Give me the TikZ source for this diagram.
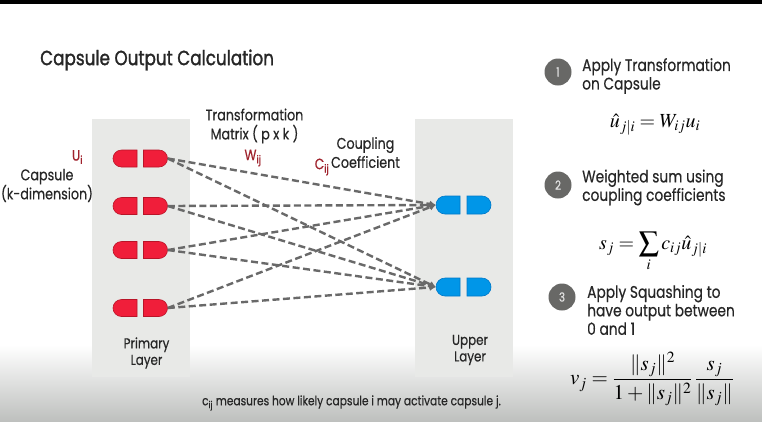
\documentclass[tikz,border=0pt]{standalone}
\usepackage{mathptmx}
\usepackage{fontspec}
\setmainfont[FakeStretch=0.82,FakeBold=0.4]{Poppins}
\newfontfamily\titlefont[FakeStretch=0.82,FakeBold=1.4]{Poppins}
\usetikzlibrary{shapes.misc,arrows.meta}
\definecolor{panel}{RGB}{232,233,231}
\definecolor{capred}{RGB}{240,30,58}
\definecolor{capredline}{RGB}{185,20,40}
\definecolor{capblue}{RGB}{0,150,232}
\definecolor{capblueline}{RGB}{0,120,200}
\definecolor{labred}{RGB}{160,35,45}
\definecolor{txt}{RGB}{38,38,38}
\definecolor{dashc}{RGB}{105,105,105}
\definecolor{badgec}{RGB}{104,104,102}
\definecolor{bottomgray}{RGB}{190,192,190}
\begin{document}
\begin{tikzpicture}[x=1pt,y=-1pt,
  capbase/.style={rounded rectangle, minimum width=24pt, minimum height=17pt, inner sep=0pt, line width=0.6pt},
  redL/.style={capbase, rounded rectangle right arc=none, fill=capred, draw=capredline},
  redR/.style={capbase, rounded rectangle left arc=none, fill=capred, draw=capredline},
  blueL/.style={capbase, minimum height=18pt, rounded rectangle right arc=none, fill=capblue, draw=capblueline},
  blueR/.style={capbase, minimum height=18pt, rounded rectangle left arc=none, fill=capblue, draw=capblueline},
  link/.style={draw=dashc, line width=2.4pt, dash pattern=on 7pt off 3.5pt, -{Latex[length=6pt,width=7pt]}},
  lab/.style={text=txt, inner sep=0pt, align=center, font=\fontsize{15.5}{19}\selectfont},
  rlab/.style={text=txt, inner sep=0pt, align=left, anchor=west, font=\fontsize{16.8}{18.5}\selectfont},
  small/.style={text=txt, inner sep=0pt, align=center, font=\fontsize{14.5}{16.5}\selectfont},
  redlab/.style={text=labred, inner sep=0pt, font=\fontsize{15}{18}\selectfont},
  badge/.style={circle, fill=badgec, minimum size=27pt, inner sep=0pt, text=white!88!black, font=\fontsize{12.5}{14}\selectfont},
  eq/.style={text=black, inner sep=0pt, font=\fontsize{20}{24}\selectfont}
]
\useasboundingbox (0,0) rectangle (762,421);
\fill[white] (0,0) rectangle (762,421);
\fill[top color=white, bottom color=bottomgray] (0,345) rectangle (762,421);
\fill[black] (0,0) rectangle (762,4);
% panels
\fill[panel] (92,119) rectangle (190,377);
\fill[panel] (415,119) rectangle (513,377);
% title
\node[text=txt, anchor=west, inner sep=0pt, font=\titlefont\fontsize{20.5}{24}\selectfont] (title) at (40,60) {Capsule Output Calculation};
% red capsules
\foreach \i/\y in {1/158.5,2/206,3/250,4/308}{
  \node[redL] (r\i L) at (125,\y) {};
  \node[redR] (r\i R) at (155.5,\y) {};
}
% blue capsules
\foreach \j/\y in {1/205,2/287}{
  \node[blueL] (b\j L) at (448,\y) {};
  \node[blueR] (b\j R) at (479,\y) {};
}
% links
\foreach \i in {1,2,3,4}{
  \foreach \j in {1,2}{
    \draw[link] (r\i R.east) -- (b\j L.west);
  }
}
% labels left
\node[redlab] (ui) at (77.5,157) {U\textsubscript{i}};
\node[lab] (caps) at (47,185.5) {Capsule\\(k-dimension)};
\node[lab] (tm) at (254.5,126) {Transformation\\Matrix ( p x k )};
\node[redlab] (wij) at (253,158) {W\textsubscript{ij}};
\node[lab] (cc) at (365.5,152.5) {Coupling\\Coefficient};
\node[redlab] (cij) at (322,167) {C\textsubscript{ij}};
\node[small] (pl) at (146.5,353) {Primary\\Layer};
\node[small] (ul) at (470,350) {Upper\\Layer};
\node[small, font=\fontsize{13}{16}\selectfont] (note) at (351.5,403) {c\textsubscript{ij} measures how likely capsule i may activate capsule j.};
% right side
\node[badge] (n1) at (558,72) {1};
\node[rlab] (t1) at (582,76) {Apply Transformation\\on Capsule};
\node[eq] (e1) at (655,125) {$\hat{u}_{j|i} = W_{ij}u_i$};
\node[badge] (n2) at (558,185) {2};
\node[rlab] (t2) at (582,187.5) {Weighted sum using\\coupling coefficients};
\node[eq] (e2) at (653,252) {$\displaystyle s_j = \sum_i c_{ij}\hat{u}_{j|i}$};
\node[badge] (n3) at (562,297) {3};
\node[rlab] (t3) at (587,310) {Apply Squashing to\\have output between\\0 and 1};
\node[eq, font=\fontsize{21}{25}\selectfont] (e3) at (652,379) {$\displaystyle v_j = \frac{\|s_j\|^2}{1+\|s_j\|^2}\,\frac{s_j}{\|s_j\|}$};
\end{tikzpicture}
\end{document}
